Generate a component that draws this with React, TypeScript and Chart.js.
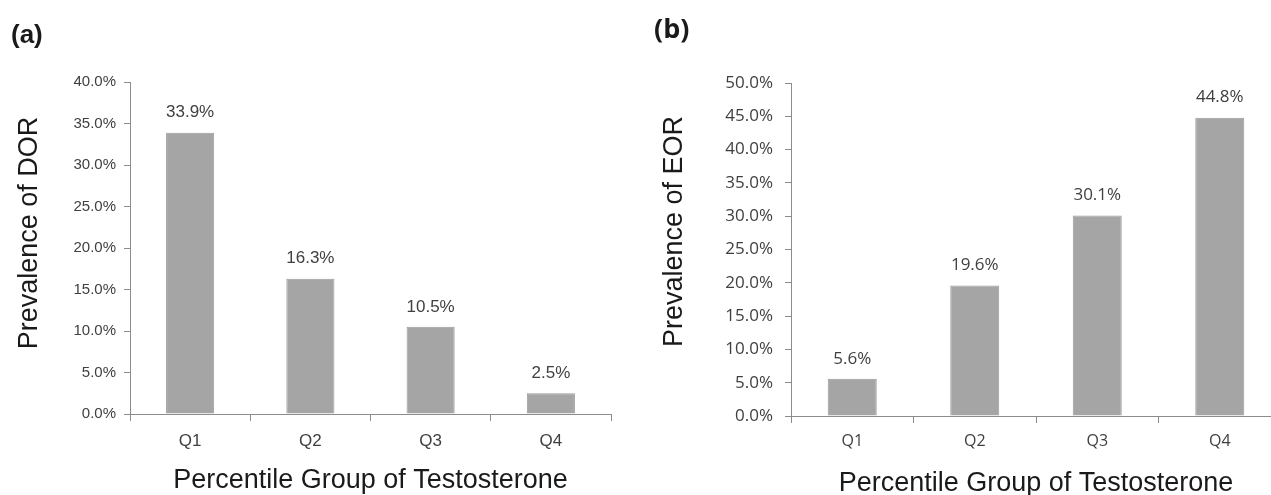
import React, { useEffect, useRef } from "react";
import { Chart, registerables } from "chart.js";

Chart.register(...registerables);

const categories = ["Q1", "Q2", "Q3", "Q4"];
const dorValues = [33.9, 16.3, 10.5, 2.5];
const eorValues = [5.6, 19.6, 30.1, 44.8];
const dorMax = 40;
const eorMax = 50;
const tickStep = 5;
const xTitle = "Percentile Group of Testosterone";
const dorTitle = "Prevalence of DOR";
const eorTitle = "Prevalence of EOR";

const TITLE_FONT = "27px 'Liberation Sans', Arial, sans-serif";

const valueLabels = {
  id: "valueLabels",
  afterDatasetsDraw(chart: any, _args: any, opts: any) {
    const ctx = chart.ctx;
    const meta = chart.getDatasetMeta(0);
    const data = chart.data.datasets[0].data as number[];
    ctx.save();
    ctx.font = opts.font;
    ctx.fillStyle = opts.color;
    ctx.textAlign = "center";
    ctx.textBaseline = "middle";
    meta.data.forEach((bar: any, i: number) => {
      ctx.fillText(data[i].toFixed(1) + "%", bar.x, bar.y - opts.offset);
    });
    ctx.restore();
  },
};

// vertical axis title, drawn beside the y scale
const yAxisTitle = {
  id: "yAxisTitle",
  afterDraw(chart: any, _args: any, opts: any) {
    const ctx = chart.ctx;
    const ys = chart.scales.y;
    const area = chart.chartArea;
    ctx.save();
    ctx.font = TITLE_FONT;
    ctx.fillStyle = "#1a1a1a";
    ctx.textAlign = "center";
    ctx.textBaseline = "middle";
    ctx.translate(ys.left + opts.inset, (area.top + area.bottom) / 2 - opts.raise);
    ctx.rotate(-Math.PI / 2);
    ctx.fillText(opts.text, 0, 0);
    ctx.restore();
  },
};

type Cfg = {
  values: number[];
  max: number;
  yTitle: string;
  tickFont: string;
  tickSize: number;
  catSize: number;
  labelFont: string;
  labelSize: number;
  labelOffset: number;
  yWidth: number;
  xHeight: number;
  pad: { top: number; right: number; bottom: number; left: number };
  yTitleInset: number;
  yTitleRaise: number;
  xTitlePadBottom: number;
  xTickPad: number;
  yTickPad: number;
};

function makeChart(canvas: HTMLCanvasElement, c: Cfg) {
  const axisColor = "#8c8c8c";
  const textColor = "#404040";
  return new Chart(canvas, {
    type: "bar",
    data: {
      labels: categories,
      datasets: [
        {
          data: c.values,
          backgroundColor: "#a5a5a5",
          borderColor: "#9c9c9c",
          borderWidth: 1,
          categoryPercentage: 1,
          barPercentage: 0.4,
        },
      ],
    },
    plugins: [valueLabels, yAxisTitle],
    options: {
      responsive: false,
      animation: false,
      devicePixelRatio: 1,
      layout: { padding: c.pad },
      plugins: {
        legend: { display: false },
        tooltip: { enabled: false },
        title: { display: false },
        valueLabels: {
          font: `${c.labelSize}px ${c.labelFont}`,
          color: textColor,
          offset: c.labelOffset,
        },
        yAxisTitle: {
          text: c.yTitle,
          inset: c.yTitleInset,
          raise: c.yTitleRaise,
        },
      } as any,
      scales: {
        x: {
          type: "category",
          offset: true,
          grid: {
            offset: true,
            drawOnChartArea: false,
            drawTicks: true,
            tickLength: 7,
            color: axisColor,
            lineWidth: 1,
          },
          border: { display: true, color: axisColor, width: 1 },
          ticks: {
            color: textColor,
            font: { family: c.tickFont, size: c.catSize },
            padding: c.xTickPad,
            maxRotation: 0,
          },
          title: {
            display: true,
            text: xTitle,
            color: "#1a1a1a",
            font: { family: "'Liberation Sans', Arial, sans-serif", size: 27 },
            padding: { top: 0, bottom: c.xTitlePadBottom },
          },
          afterFit: (s: any) => {
            s.height = c.xHeight;
          },
        },
        y: {
          type: "linear",
          min: 0,
          max: c.max,
          grid: {
            drawOnChartArea: false,
            drawTicks: true,
            tickLength: 6,
            color: axisColor,
            lineWidth: 1,
          },
          border: { display: true, color: axisColor, width: 1 },
          ticks: {
            stepSize: tickStep,
            color: textColor,
            font: { family: c.tickFont, size: c.tickSize },
            padding: c.yTickPad,
            callback: (v: any) => Number(v).toFixed(1) + "%",
          },
          title: { display: false },
          afterFit: (s: any) => {
            s.width = c.yWidth;
          },
        },
      },
    } as any,
  });
}

export default function App() {
  const leftRef = useRef<HTMLCanvasElement>(null);
  const rightRef = useRef<HTMLCanvasElement>(null);

  useEffect(() => {
    const left = makeChart(leftRef.current!, {
      values: dorValues,
      max: dorMax,
      yTitle: dorTitle,
      tickFont: "'Liberation Sans', Arial, sans-serif",
      tickSize: 15,
      catSize: 17,
      labelFont: "'Liberation Sans', Arial, sans-serif",
      labelSize: 17,
      labelOffset: 20,
      yWidth: 130,
      xHeight: 81,
      pad: { top: 82, right: 29, bottom: 0, left: 0 },
      yTitleInset: 30,
      yTitleRaise: 15,
      xTitlePadBottom: -2,
      xTickPad: 10,
      yTickPad: 8,
    });
    const right = makeChart(rightRef.current!, {
      values: eorValues,
      max: eorMax,
      yTitle: eorTitle,
      tickFont: "'Open Sans', sans-serif",
      tickSize: 17,
      catSize: 16,
      labelFont: "'Open Sans', sans-serif",
      labelSize: 17,
      labelOffset: 20,
      yWidth: 151,
      xHeight: 89,
      pad: { top: 83, right: 19, bottom: 0, left: 0 },
      yTitleInset: 35,
      yTitleRaise: 18,
      xTitlePadBottom: 5,
      xTickPad: 9,
      yTickPad: 12,
    });
    return () => {
      left.destroy();
      right.destroy();
    };
  }, []);

  return (
    <div
      style={{
        position: "fixed",
        left: 0,
        top: 0,
        width: 1271,
        height: 495,
        overflow: "hidden",
        background: "#ffffff",
      }}
    >
      <canvas
        ref={leftRef}
        width={640}
        height={495}
        style={{ position: "absolute", left: 0, top: 0 }}
      />
      <canvas
        ref={rightRef}
        width={660}
        height={505}
        style={{ position: "absolute", left: 640, top: 0 }}
      />
      <div
        style={{
          position: "absolute",
          left: 11,
          top: 19,
          font: "bold 26px 'Liberation Sans', Arial, sans-serif",
          color: "#1a1a1a",
          lineHeight: "30px",
        }}
      >
        (a)
      </div>
      <div
        style={{
          position: "absolute",
          left: 654,
          top: 12,
          font: "bold 27px 'Open Sans', sans-serif",
          color: "#1a1a1a",
          lineHeight: "32px",
        }}
      >
        (b)
      </div>
    </div>
  );
}
